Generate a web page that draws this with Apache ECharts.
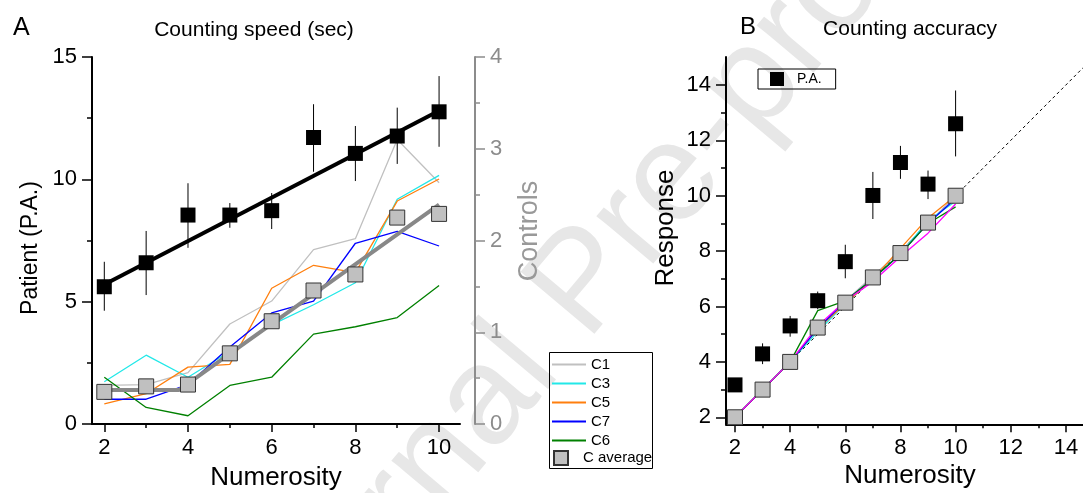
<!DOCTYPE html>
<html>
<head>
<meta charset="utf-8">
<script src="https://cdn.jsdelivr.net/npm/echarts@6/dist/echarts.min.js"></script>
<style>html,body{margin:0;padding:0;background:#fff;}#c{width:1083px;height:493px;}</style>
</head>
<body>
<div id="c"></div>
<script>
// ---------- data ----------
const numerosity = [2, 3, 4, 5, 6, 7, 8, 9, 10];

// Panel A: counting speed (sec)
const paSpeed   = [5.61, 6.59, 8.54, 8.54, 8.72, 11.71, 11.06, 11.77, 12.76];
const paSpeedLo = [4.63, 5.27, 7.20, 8.02, 7.97, 10.31, 9.93, 10.63, 11.33];
const paSpeedHi = [6.63, 7.89, 9.84, 9.03, 9.44, 13.07, 12.18, 12.93, 14.22];
const paSpeedFitX = [2, 10];
const paSpeedFitY = [5.7, 12.8];

const c1Speed = [0.42, 0.43, 0.56, 1.09, 1.34, 1.90, 2.02, 3.10, 2.63];
const c3Speed = [0.46, 0.75, 0.51, 0.79, 1.08, 1.30, 1.54, 2.45, 2.71];
const c5Speed = [0.22, 0.33, 0.62, 0.65, 1.48, 1.73, 1.65, 2.43, 2.67];
const c7Speed = [0.27, 0.27, 0.43, 0.84, 1.21, 1.34, 1.97, 2.10, 1.94];
const c6Speed = [0.51, 0.18, 0.09, 0.42, 0.51, 0.98, 1.06, 1.16, 1.51];
const cAvgSpeed = [0.35, 0.41, 0.43, 0.77, 1.12, 1.455, 1.63, 2.25, 2.29];
const cSpeedFitX = [2, 3.78, 10];
const cSpeedFitY = [0.37, 0.37, 2.39];

// Panel B: counting accuracy (response)
const paResp   = [3.17, 4.29, 5.30, 6.21, 7.62, 10.01, 11.20, 10.42, 12.60];
const paRespLo = [3.05, 3.92, 4.91, 5.90, 7.02, 9.16, 10.61, 9.88, 11.42];
const paRespHi = [3.30, 4.67, 5.66, 6.54, 8.23, 10.86, 11.80, 10.91, 13.80];
const c1Resp = [2, 3, 4, 5.20, 6.20, 7.10, 8.00, 9.00, 10.00];
const c3Resp = [2, 3, 4, 5.10, 6.10, 7.00, 7.90, 9.10, 9.80];
const c5Resp = [2, 3, 4, 5.20, 6.10, 7.00, 8.10, 9.20, 10.00];
const c7Resp = [2, 3, 4, 5.20, 6.20, 7.00, 7.90, 9.00, 9.90];
const c6Resp = [2, 3, 4, 5.85, 6.20, 7.00, 7.90, 9.00, 9.60];
const cxResp = [2, 3, 4, 5.30, 6.20, 6.90, 7.80, 8.65, 9.70];
const cAvgResp = [2.0, 3.0, 4.0, 5.24, 6.14, 7.05, 7.93, 9.03, 10.0];
const identityX = [1.7, 14.62];

// tick labels
const xTicksA = [2, 4, 6, 8, 10];
const xMinorA = [3, 5, 7, 9];
const yTicksA = [0, 5, 10, 15];
const yMinorA = [2.5, 7.5, 12.5];
const yTicksCtrl = [0, 1, 2, 3, 4];
const yMinorCtrl = [0.5, 1.5, 2.5, 3.5];
const xTicksB = [2, 4, 6, 8, 10, 12, 14];
const xMinorB = [3, 5, 7, 9, 11, 13];
const yTicksB = [2, 4, 6, 8, 10, 12, 14];
const yMinorB = [3, 5, 7, 9, 11, 13];

// ---------- helpers ----------
const FF = "'Liberation Sans', Arial, sans-serif";
const zip = (xs, ys) => xs.map((x, i) => [x, ys[i]]);

function majorAxis(grid, min, max, ticks, tickLen, color, extra) {
  return Object.assign({
    gridIndex: grid, type: 'value', min: min, max: max,
    axisLine: { show: true, onZero: false, lineStyle: { color: color, width: 2 } },
    axisTick: { show: true, customValues: ticks, length: tickLen, lineStyle: { color: color, width: 1.5 } },
    axisLabel: { show: true, customValues: ticks, fontSize: 22, color: color, fontFamily: FF, margin: 15 },
    splitLine: { show: false }
  }, extra || {});
}
function minorAxis(grid, min, max, ticks, tickLen, color, extra) {
  return Object.assign({
    gridIndex: grid, type: 'value', min: min, max: max,
    axisLine: { show: false, onZero: false },
    axisTick: { show: true, customValues: ticks, length: tickLen, lineStyle: { color: color, width: 1.5 } },
    axisLabel: { show: false },
    splitLine: { show: false }
  }, extra || {});
}
function errBars(xi, yi, lo, hi) {
  return {
    type: 'custom', xAxisIndex: xi, yAxisIndex: yi, silent: true, z: 4,
    encode: { x: 0, y: [1, 2] },
    data: numerosity.map((x, i) => [x, lo[i], hi[i]]),
    renderItem: function (params, api) {
      const p1 = api.coord([api.value(0), api.value(1)]);
      const p2 = api.coord([api.value(0), api.value(2)]);
      return { type: 'line', shape: { x1: p1[0], y1: p1[1], x2: p2[0], y2: p2[1] },
               style: { stroke: '#000', lineWidth: 1 } };
    }
  };
}
function ctrlLine(name, xi, yi, vals, color) {
  return { name: name, type: 'line', xAxisIndex: xi, yAxisIndex: yi, data: zip(numerosity, vals),
           symbol: 'none', lineStyle: { color: color, width: 1.3 }, itemStyle: { color: color }, z: 3 };
}

const chart = echarts.init(document.getElementById('c'), null, { renderer: 'canvas' });
const option = {
  animation: false,
  backgroundColor: '#fff',
  textStyle: { fontFamily: FF },
  grid: [
    { left: 92, top: 57, width: 368, height: 367 },
    { left: 726, top: 57, width: 357, height: 367.3 }
  ],
  xAxis: [
    majorAxis(0, 1.706, 10.5, xTicksA, 8, '#000', { position: 'bottom', axisLabel: { customValues: xTicksA, fontSize: 22, color: '#000', fontFamily: FF, margin: 13 } }),
    majorAxis(1, 1.674, 14.62, xTicksB, 8, '#000', { position: 'bottom', axisLabel: { customValues: xTicksB, fontSize: 22, color: '#000', fontFamily: FF, margin: 13 } }),
    minorAxis(0, 1.706, 10.5, xMinorA, 4, '#000', { position: 'bottom' }),
    minorAxis(1, 1.674, 14.62, xMinorB, 4, '#000', { position: 'bottom' })
  ],
  yAxis: [
    majorAxis(0, 0, 15, yTicksA, 10, '#000', { position: 'left' }),
    majorAxis(0, 0, 4, yTicksCtrl, 10, '#8c8c8c', { position: 'right', offset: 15 }),
    majorAxis(1, 1.747, 15.01, yTicksB, 10, '#000', { position: 'left' }),
    minorAxis(0, 0, 15, yMinorA, 5, '#000', { position: 'left' }),
    minorAxis(0, 0, 4, yMinorCtrl, 5, '#8c8c8c', { position: 'right', offset: 15 }),
    minorAxis(1, 1.747, 15.01, yMinorB, 5, '#000', { position: 'left' })
  ],
  legend: [
    { data: ['C1', 'C3', 'C5', 'C7', 'C6'], orient: 'vertical', left: 552, top: 356, padding: 0,
      icon: 'rect', itemWidth: 34, itemHeight: 2, itemGap: 2,
      textStyle: { fontSize: 15, color: '#000', fontFamily: FF, lineHeight: 17 },
      selectedMode: false },
    { data: ['C average'], orient: 'vertical', left: 553, top: 450, padding: 0,
      itemWidth: 14, itemHeight: 14, textStyle: { fontSize: 15, color: '#000', fontFamily: FF, padding: [0, 0, 0, 10] },
      selectedMode: false },
    { data: ['P.A.'], left: 758, top: 69, padding: [3, 14, 3, 12], borderColor: '#000', borderWidth: 1,
      itemWidth: 14, itemHeight: 14, textStyle: { fontSize: 14, color: '#000', fontFamily: FF, padding: [0, 0, 0, 8] },
      selectedMode: false }
  ],
  graphic: [
    { type: 'text', x: 585, y: 285, rotation: 50 * Math.PI / 180, z: -10, silent: true,
      style: { text: 'Journal Pre-proof', fontSize: 140, fontFamily: FF, fill: '#e7e7e7', align: 'center', verticalAlign: 'middle' } },
    { type: 'text', left: 13, top: 16, style: { text: 'A', fontSize: 25, fontFamily: FF, fill: '#000' } },
    { type: 'text', left: 740, top: 15, style: { text: 'B', fontSize: 24, fontFamily: FF, fill: '#000' } },
    { type: 'text', x: 254, y: 30, style: { text: 'Counting speed (sec)', fontSize: 21, fontFamily: FF, fill: '#000', align: 'center', verticalAlign: 'middle' } },
    { type: 'text', x: 910, y: 29, style: { text: 'Counting accuracy', fontSize: 21, fontFamily: FF, fill: '#000', align: 'center', verticalAlign: 'middle' } },
    { type: 'text', x: 31, y: 248, rotation: Math.PI / 2, style: { text: 'Patient (P.A.)', fontSize: 23, fontFamily: FF, fill: '#000', align: 'center', verticalAlign: 'middle' } },
    { type: 'text', x: 530, y: 231, rotation: Math.PI / 2, style: { text: 'Controls', fontSize: 27, fontFamily: FF, fill: '#999', align: 'center', verticalAlign: 'middle' } },
    { type: 'text', x: 666, y: 228, rotation: Math.PI / 2, style: { text: 'Response', fontSize: 26, fontFamily: FF, fill: '#000', align: 'center', verticalAlign: 'middle' } },
    { type: 'text', x: 276, y: 478, style: { text: 'Numerosity', fontSize: 26, fontFamily: FF, fill: '#000', align: 'center', verticalAlign: 'middle' } },
    { type: 'text', x: 910, y: 476, style: { text: 'Numerosity', fontSize: 26, fontFamily: FF, fill: '#000', align: 'center', verticalAlign: 'middle' } },
    { type: 'rect', shape: { x: 549.5, y: 352.5, width: 103, height: 116 }, style: { fill: 'none', stroke: '#000', lineWidth: 1 } }
  ],
  series: [
    // ----- Panel A -----
    ctrlLine('C1', 0, 1, c1Speed, '#c0c0c0'),
    ctrlLine('C3', 0, 1, c3Speed, '#22e8e8'),
    ctrlLine('C5', 0, 1, c5Speed, '#ff7f0e'),
    ctrlLine('C7', 0, 1, c7Speed, '#0000ff'),
    ctrlLine('C6', 0, 1, c6Speed, '#008000'),
    { name: 'C fit', type: 'line', xAxisIndex: 0, yAxisIndex: 1, data: zip(cSpeedFitX, cSpeedFitY),
      symbol: 'none', lineStyle: { color: '#888', width: 4 }, z: 4 },
    { name: 'C average', type: 'scatter', xAxisIndex: 0, yAxisIndex: 1, data: zip(numerosity, cAvgSpeed),
      symbol: 'rect', symbolSize: 15, itemStyle: { color: '#c0c0c0', borderColor: '#333', borderWidth: 1, opacity: 1 }, z: 5 },
    { name: 'P.A. fit', type: 'line', xAxisIndex: 0, yAxisIndex: 0, data: zip(paSpeedFitX, paSpeedFitY),
      symbol: 'none', lineStyle: { color: '#000', width: 4 }, z: 4 },
    errBars(0, 0, paSpeedLo, paSpeedHi),
    { name: 'P.A.', type: 'scatter', xAxisIndex: 0, yAxisIndex: 0, data: zip(numerosity, paSpeed),
      symbol: 'rect', symbolSize: 15, itemStyle: { color: '#000', opacity: 1 }, z: 6 },
    // ----- Panel B -----
    { name: 'identity', type: 'line', xAxisIndex: 1, yAxisIndex: 2, data: zip(identityX, identityX),
      symbol: 'none', lineStyle: { color: '#000', width: 1, type: [3, 3] }, z: 2 },
    ctrlLine('C1', 1, 2, c1Resp, '#c0c0c0'),
    ctrlLine('C3', 1, 2, c3Resp, '#22e8e8'),
    ctrlLine('C5', 1, 2, c5Resp, '#ff7f0e'),
    ctrlLine('C7', 1, 2, c7Resp, '#0000ff'),
    ctrlLine('C6', 1, 2, c6Resp, '#008000'),
    ctrlLine('Cx', 1, 2, cxResp, '#ff00ff'),
    { name: 'C average', type: 'scatter', xAxisIndex: 1, yAxisIndex: 2, data: zip(numerosity, cAvgResp),
      symbol: 'rect', symbolSize: 15, itemStyle: { color: '#c0c0c0', borderColor: '#333', borderWidth: 1, opacity: 1 }, z: 5 },
    errBars(1, 2, paRespLo, paRespHi),
    { name: 'P.A.', type: 'scatter', xAxisIndex: 1, yAxisIndex: 2, data: zip(numerosity, paResp),
      symbol: 'rect', symbolSize: 15, itemStyle: { color: '#000', opacity: 1 }, z: 6 }
  ]
};
chart.setOption(option);
</script>
</body>
</html>
